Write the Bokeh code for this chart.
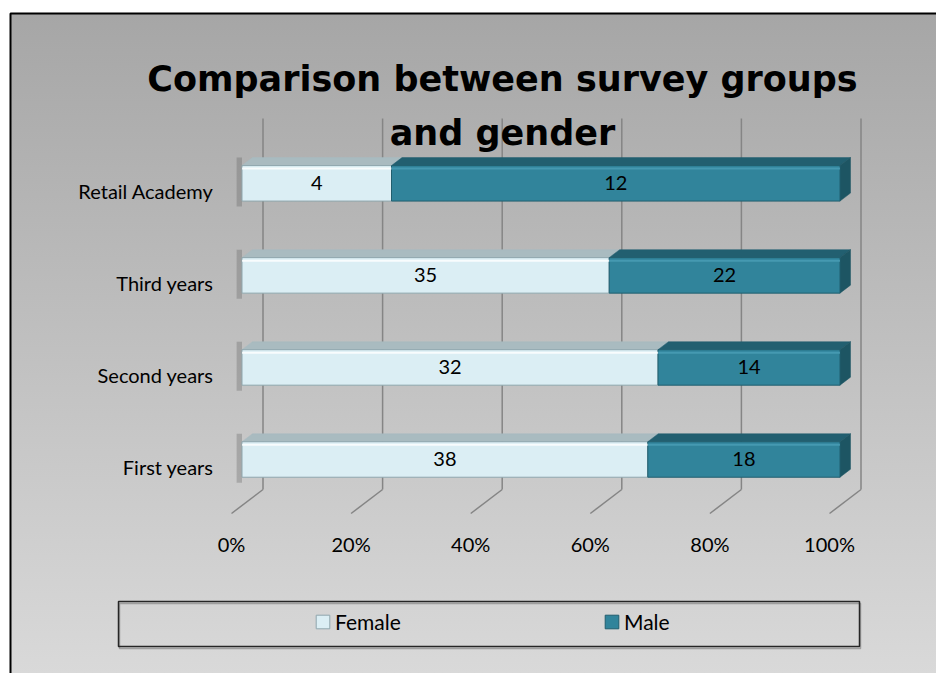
import numpy as np
from bokeh.plotting import figure
from bokeh.models import (FixedTicker, Label, BoxAnnotation, Legend, LegendItem, Range1d)
from bokeh.core.properties import value
from bokeh.embed import file_html
from bokeh.resources import INLINE

# ---------------- data ----------------
categories = ["First years", "Second years", "Third years", "Retail Academy"]
female = [38, 32, 35, 4]
male = [18, 14, 22, 12]
series_names = ["Female", "Male"]
x_ticks = [0, 20, 40, 60, 80, 100]
x_tick_labels = ["0%", "20%", "40%", "60%", "80%", "100%"]
title_lines = ["Comparison between survey groups", "and gender"]

# ---------------- layout / style ----------------
W, H = 936, 673
X0_PX, PXX = 231.0, 5.98        # screen x of 0 %, pixels per %
Y0_PX, PXY = 513.0, 92.05       # screen y of floor front edge, pixels per category
FLOOR = -0.5                    # floor front edge in category units
x_lo, x_hi = -X0_PX / PXX, (W - X0_PX) / PXX
y_hi = FLOOR + Y0_PX / PXY
y_lo = FLOOR - (H - Y0_PX) / PXY
WALL_TOP = FLOOR + (Y0_PX - 118) / PXY
DX = 10.5 / PXX                 # one depth step (x, data units)
DY = 8.0 / PXY                  # one depth step (y, data units)
BAR_H = 35.5 / PXY

F_FRONT, F_TOP, F_EDGE = "#dbeef4", "#a9bbc0", "#8fa6ad"
M_FRONT, M_TOP, M_SIDE, M_EDGE = "#31849b", "#225f70", "#1d5563", "#215e6e"
GRID = "#858585"
FONT = "Lato"

f = np.array(female, float)
m = np.array(male, float)
pf = f / (f + m) * 100.0
pos = np.arange(len(categories), dtype=float)
yb = pos + DY - BAR_H / 2
yt = pos + DY + BAR_H / 2

p = figure(width=W, height=H, output_backend="svg", toolbar_location=None,
           x_range=Range1d(x_lo, x_hi), y_range=Range1d(y_lo, y_hi),
           min_border=0)
p.background_fill_alpha = 0
p.border_fill_alpha = 0
p.outline_line_color = None
p.xgrid.visible = False
p.ygrid.visible = False
p.styles = {
    "background-color": "white",
    "background-image": "linear-gradient(to bottom, #a6a6a6, #d9d9d9)",
    "background-repeat": "no-repeat",
    "background-position": "10px 13px",
    "background-size": "926px 660px",
}

# back-wall gridlines and floor diagonals
xt = np.array(x_ticks, float)
p.segment(x0=xt + 3 * DX, y0=FLOOR + 3 * DY, x1=xt + 3 * DX, y1=WALL_TOP,
          line_color=GRID, line_width=1.5)
p.segment(x0=xt, y0=FLOOR, x1=xt + 3 * DX, y1=FLOOR + 3 * DY,
          line_color=GRID, line_width=1.5)

# soft shadow on the left of each bar
p.quad(left=DX - 0.9, right=DX, bottom=yb - 0.06, top=yt + DY,
       fill_color="#5a5a5a", fill_alpha=0.3, line_color=None)

# top faces
xs_top, ys_top, cols_top = [], [], []
for i in range(len(categories)):
    for x0, x1, c in ((0.0, pf[i], F_TOP), (pf[i], 100.0, M_TOP)):
        xs_top.append([x0 + DX, x1 + DX, x1 + 2 * DX, x0 + 2 * DX])
        ys_top.append([yt[i], yt[i], yt[i] + DY, yt[i] + DY])
        cols_top.append(c)
p.patches(xs=xs_top, ys=ys_top, fill_color=cols_top, line_color=cols_top, line_width=0.5)

# right side faces
xs_side = [[100 + DX, 100 + DX, 100 + 2 * DX, 100 + 2 * DX] for _ in categories]
ys_side = [[yb[i], yt[i], yt[i] + DY, yb[i] + DY] for i in range(len(categories))]
p.patches(xs=xs_side, ys=ys_side, fill_color=M_SIDE, line_color=M_SIDE, line_width=0.5)

# front faces
r_f = p.quad(left=DX, right=pf + DX, bottom=yb, top=yt,
             fill_color=F_FRONT, line_color=F_EDGE, line_width=1)
r_m = p.quad(left=pf + DX, right=100 + DX, bottom=yb, top=yt,
             fill_color=M_FRONT, line_color=M_EDGE, line_width=1)

# bevel highlight
hl = yt - 3.0 / PXY
p.segment(x0=np.full(len(pos), DX), y0=hl, x1=pf + DX, y1=hl,
          line_color="white", line_width=2, line_alpha=0.8)
p.segment(x0=pf + DX, y0=hl, x1=np.full(len(pos), 100 + DX), y1=hl,
          line_color="#4b9fb6", line_width=2, line_alpha=0.8)

# data labels
p.text(x=pf / 2 + DX, y=pos + DY, text=[str(v) for v in female],
       text_font=value(FONT), text_font_size="20px", text_color="black",
       text_align="center", text_baseline="middle")
p.text(x=(pf + 100) / 2 + DX, y=pos + DY, text=[str(v) for v in male],
       text_font=value(FONT), text_font_size="20px", text_color="black",
       text_align="center", text_baseline="middle")

# axes (placed inside the frame at fixed locations)
p.xaxis.ticker = FixedTicker(ticks=x_ticks)
p.xaxis.major_label_overrides = {t: l for t, l in zip(x_ticks, x_tick_labels)}
p.xaxis.fixed_location = FLOOR - 9.0 / PXY
p.yaxis.ticker = FixedTicker(ticks=list(range(len(categories))))
p.yaxis.major_label_overrides = {i: c for i, c in enumerate(categories)}
p.yaxis.fixed_location = -9.0 / PXX
for ax in (p.xaxis[0], p.yaxis[0]):
    ax.axis_line_color = None
    ax.major_tick_line_color = None
    ax.minor_tick_line_color = None
    ax.major_tick_out = 0
    ax.major_tick_in = 0
    ax.minor_tick_out = 0
    ax.major_label_text_font = FONT
    ax.major_label_text_color = "black"
    ax.major_label_text_font_size = "20px"
p.xaxis.major_label_standoff = 9
p.yaxis.major_label_standoff = 9

# title
for txt, base in zip(title_lines, (78, 132)):
    p.add_layout(Label(x=502, y=base, x_units="canvas", y_units="canvas", text=txt,
                       text_font="DejaVu Sans", text_font_style="bold",
                       text_font_size="35px", text_color="black",
                       text_align="center", text_baseline="alphabetic"))

# legend
legend = Legend(items=[LegendItem(label=series_names[0], renderers=[r_f]),
                       LegendItem(label=series_names[1], renderers=[r_m])],
                orientation="horizontal", location=(314, 39),
                padding=0, margin=0, spacing=198, label_standoff=4,
                glyph_width=17, glyph_height=17, label_width=70, label_height=21,
                border_line_alpha=0, background_fill_alpha=0,
                label_text_font=FONT, label_text_font_size="21px",
                label_text_color="black")
p.add_layout(legend)
# legend frame (with a soft shadow under it)
p.add_layout(BoxAnnotation(left=119, right=860, top=603, bottom=648,
                           left_units="canvas", right_units="canvas",
                           top_units="canvas", bottom_units="canvas",
                           fill_alpha=0, line_color="#7a7a7a", line_alpha=0.6,
                           line_width=1.5))
p.add_layout(BoxAnnotation(left=118, right=859, top=601, bottom=646,
                           left_units="canvas", right_units="canvas",
                           top_units="canvas", bottom_units="canvas",
                           fill_alpha=0, line_color="#262626", line_alpha=1,
                           line_width=1.5))
# chart outer border
p.add_layout(BoxAnnotation(left=10, right=960, top=13, bottom=700,
                           left_units="canvas", right_units="canvas",
                           top_units="canvas", bottom_units="canvas",
                           fill_alpha=0, line_color="black", line_alpha=1,
                           line_width=2))

open("out.html", "w").write(file_html(p, INLINE))
